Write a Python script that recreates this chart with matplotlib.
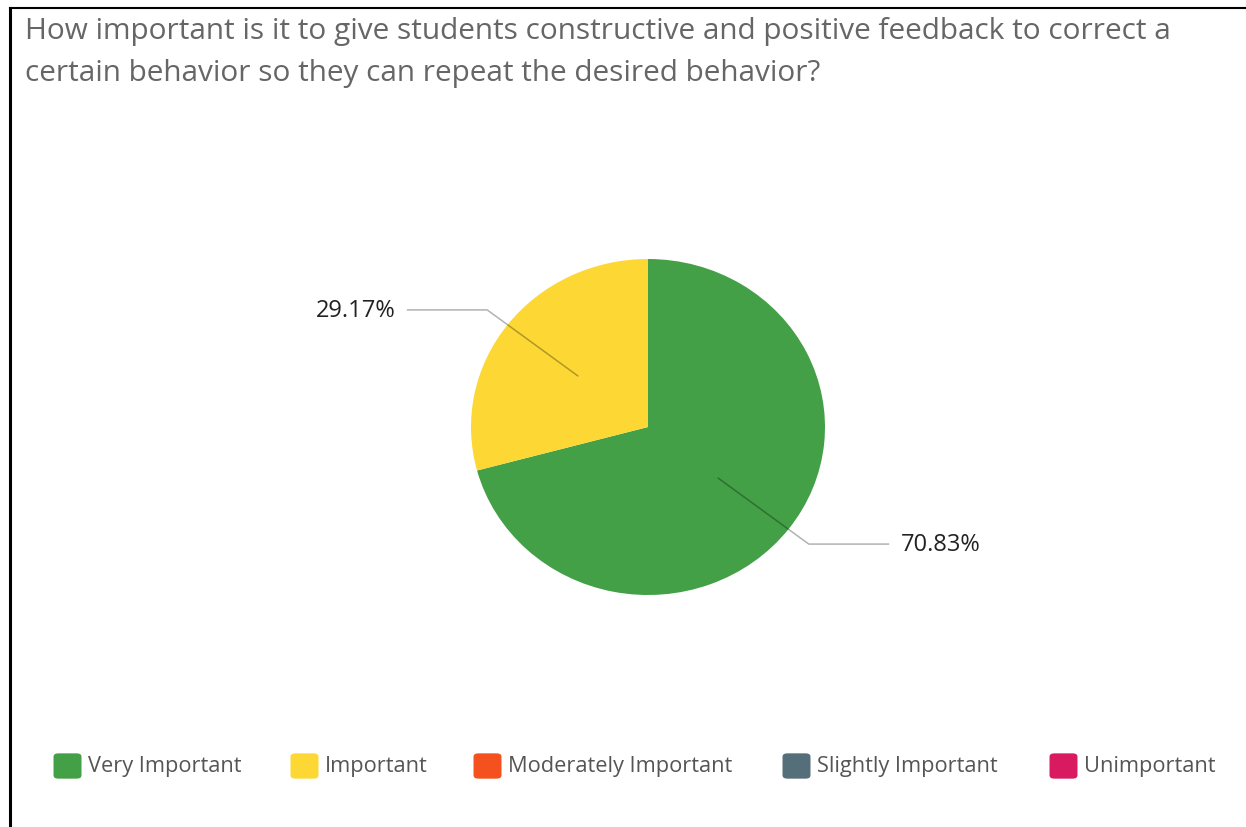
import matplotlib.pyplot as plt
from matplotlib.patches import FancyBboxPatch
import numpy as np

title_lines = ['How important is it to give students constructive and positive feedback to correct a',
               'certain behavior so they can repeat the desired behavior?']
categories = ['Very Important', 'Important', 'Moderately Important', 'Slightly Important', 'Unimportant']
shares = [70.83, 29.17, 0.0, 0.0, 0.0]
colors = ['#43a047', '#fdd835', '#f4511e', '#546e7a', '#d81b60']

W, H = 1246, 828
fig = plt.figure(figsize=(W / 100, H / 100), dpi=100)
fig.patch.set_facecolor('white')

# frame lines along the top and left edges
fig.add_artist(plt.Line2D([10 / W, 1], [1 - 9 / H, 1 - 9 / H], color='black', lw=1.5))
fig.add_artist(plt.Line2D([10 / W, 10 / W], [0, 1 - 9 / H], color='black', lw=2.2))

font = ['Open Sans', 'DejaVu Sans']
fig.text(25 / W, 1 - 32 / H, title_lines[0], fontsize=21.4, color='#666666', family=font, va='center')
fig.text(25 / W, 1 - 73 / H, title_lines[1], fontsize=21.4, color='#666666', family=font, va='center')

# pie axes: x radius 177 px, y radius 168 px around (648, 428)
cx, cy, rx, ry = 648, 428, 177, 168
ax = fig.add_axes([(cx - 2 * rx) / W, (H - cy - 2 * ry) / H, 4 * rx / W, 4 * ry / H])
vals = [v for v in shares if v > 0]
cols = [c for v, c in zip(shares, colors) if v > 0]
wedges, _ = ax.pie(vals, colors=cols, startangle=90, counterclock=False, radius=1)
ax.set_aspect('auto')
ax.set_xlim(-2, 2)
ax.set_ylim(-2, 2)
ax.axis('off')

# leader lines and value labels
start = 90.0
for v in vals:
    mid = np.deg2rad(start - v / 2 * 3.6)
    start -= v * 3.6
    x0, y0 = 0.5 * np.cos(mid), 0.5 * np.sin(mid)
    x1, y1 = 1.145 * np.cos(mid), 1.145 * np.sin(mid)
    side = 1 if x1 > 0 else -1
    x2 = x1 + side * 0.45
    ax.plot([x0, x1, x2], [y0, y1, y1], color='black', alpha=0.3, lw=1.1)
    ax.text(x2 + side * 0.07, y1, f'{v:.2f}%', ha='left' if side > 0 else 'right', va='center',
            fontsize=17, color='#222222', family=font)

# legend row
legend_x = [54, 291, 474, 783, 1050]
for x, name, c in zip(legend_x, categories, colors):
    fig.add_artist(FancyBboxPatch(((x + 2) / W, 1 - 778 / H), 23 / W, 22 / H,
                                  boxstyle='round,pad=0.002,rounding_size=0.004',
                                  facecolor=c, edgecolor='none', transform=fig.transFigure))
    fig.text((x + 34) / W, 1 - 767 / H, name, fontsize=15.7, color='#555555', family=font, va='center')

fig.savefig('out.png', dpi=100)
